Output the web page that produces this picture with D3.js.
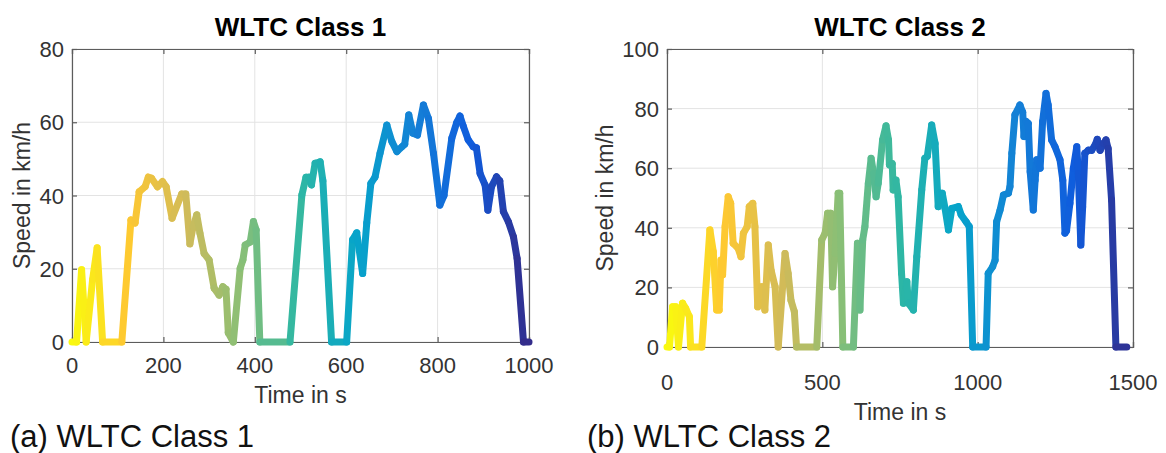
<!DOCTYPE html>
<html>
<head>
<meta charset="utf-8">
<script src="https://cdn.jsdelivr.net/npm/d3@7"></script>
<style>
  body { margin: 0; background: #fff; }
  svg { display: block; font-family: "Liberation Sans", Arial, sans-serif; }
</style>
</head>
<body>
<div id="chart"></div>
<script>

var class1Time  = [0,10,21,31,45,55,67,109,129,138,147,160,167,174,187,198,206,219,240,249,258,265,273,280,289,300,311,322,330,337,342,353,368,374,379,390,397,403,411,477,503,512,518,524,532,543,549,568,601,614,623,636,645,654,663,674,689,700,711,722,728,737,746,756,769,780,791,805,814,831,842,849,856,867,878,885,893,904,910,918,929,936,944,955,966,974,988,1000];
var class1Speed = [0,0,19.7,0,17,25.7,0,0,33.3,32.5,41,42.4,45,44.7,42.4,43.8,42.4,33.8,40.4,40.4,26.8,31.5,34.7,29.7,24.2,22.4,14.7,12.8,15.1,14.4,2.5,0,20.1,22.4,26.5,27.3,32.9,30.6,0,0,40.1,45,45,42.9,48.8,49.2,44,0,0,27.9,29.8,18.7,32.5,43.3,45,51.5,59.2,54.7,52,53.3,54,62,57,56.5,64.7,61,51.5,37.4,40,55.6,60,61.7,59,55.2,53.3,53,46,42.8,36,42.4,45.1,44,35.6,32.8,28.7,22.8,0,0];

var class2Time  = [0,8,18,28,37,50,60,72,76,112,138,149,160,168,174,179,187,197,205,213,229,238,246,258,265,276,283,292,305,315,326,335,348,358,380,390,399,410,417,482,498,509,517,527,533,541,551,556,566,600,613,621,630,637,648,657,665,673,680,694,705,713,716,725,728,737,744,755,761,772,777,793,804,820,830,838,852,863,873,878,886,895,906,917,938,947,963,973,984,1027,1034,1048,1056,1061,1072,1083,1099,1104,1110,1120,1136,1145,1149,1156,1163,1169,1179,1185,1190,1201,1209,1220,1227,1238,1249,1265,1274,1281,1286,1297,1308,1319,1324,1332,1338,1345,1356,1367,1378,1385,1394,1405,1413,1420,1431,1445,1480];
var class2Speed = [0,0,13.5,13.5,0,14.7,13,10.2,0,0,39.3,32,12.4,12.4,29.2,24.2,40.4,50.4,48.2,34.8,33.1,30.3,38.2,40.4,47.1,48.2,40.4,13.5,20.2,12.4,34.2,25.8,20.2,0,31.4,24.7,15.7,11.8,0,0,35.9,38.2,44.9,44.9,20.2,31.4,51.6,51.6,0,0,34.8,12.4,35.9,40.4,54.9,63.3,58.2,50.4,55,69.5,74.2,69.5,61.1,61.5,52.7,56,50.4,24.7,14.7,21.9,14.7,12.4,30.3,52.7,63.3,64,74.5,68.3,47.1,51.6,51.6,46.5,39.3,46.5,47.1,44.3,42,40.4,0,0,24.7,26.9,29.1,42,45.9,51,51.6,53.8,65,77.9,81.2,78.8,70.6,75.7,75,58.8,46,56,62.8,60,75.6,85.1,81.2,69.5,67.2,62.8,56,38.2,39,48.2,60,67.2,58.2,34.2,47,65,66,66,67.8,69.7,66,68.3,69.5,66.6,49.3,0,0];

var class1XTicks = [0,200,400,600,800,1000];
var class1YTicks = [0,20,40,60,80];
var class2XTicks = [0,500,1000,1500];
var class2YTicks = [0,20,40,60,80,100];

// parula colours, time runs from yellow to dark blue
var parula = ['#352a87','#0f5cdd','#1481d6','#06a4ca','#2eb7a4','#87bf77','#d1bb59','#fec832','#f9fb0e'];

var width = 1166;
var height = 453;

var svg = d3.select('#chart')
		.append('svg')
		.attr('width', width)
		.attr('height', height);

function drawPanel(p) {
	var x = d3.scaleLinear().domain([0, p.xMax]).range([p.left, p.right]);
	var y = d3.scaleLinear().domain([0, p.yMax]).range([p.bottom, p.top]);

	var colour = d3.scaleLinear()
		.domain(parula.map(function(c, i) { return p.xMax * (1 - i / (parula.length - 1)); }))
		.range(parula);

	var g = svg.append('g');

	// grid
	g.selectAll('.vgrid').data(p.xTicks).enter().append('line')
		.attr('x1', d => x(d)).attr('x2', d => x(d))
		.attr('y1', p.top).attr('y2', p.bottom)
		.attr('stroke', '#e3e3e3').attr('stroke-width', 1);
	g.selectAll('.hgrid').data(p.yTicks).enter().append('line')
		.attr('y1', d => y(d)).attr('y2', d => y(d))
		.attr('x1', p.left).attr('x2', p.right)
		.attr('stroke', '#e3e3e3').attr('stroke-width', 1);

	// axes on all four sides, ticks inside
	var tl = 5;
	var bottomAxis = d3.axisBottom(x).tickValues(p.xTicks).tickSize(-tl).tickFormat('');
	var topAxis = d3.axisTop(x).tickValues(p.xTicks).tickSize(-tl).tickFormat('');
	var leftAxis = d3.axisLeft(y).tickValues(p.yTicks).tickSize(-tl).tickFormat('');
	var rightAxis = d3.axisRight(y).tickValues(p.yTicks).tickSize(-tl).tickFormat('');

	g.append('g').attr('transform', 'translate(0,' + p.bottom + ')').call(bottomAxis);
	g.append('g').attr('transform', 'translate(0,' + p.top + ')').call(topAxis);
	g.append('g').attr('transform', 'translate(' + p.left + ',0)').call(leftAxis);
	g.append('g').attr('transform', 'translate(' + p.right + ',0)').call(rightAxis);
	g.selectAll('.domain, .tick line').attr('stroke', '#5c5c5c').attr('stroke-width', 1.2);

	// tick labels
	g.selectAll('.xlab').data(p.xTicks).enter().append('text')
		.attr('x', d => x(d)).attr('y', p.bottom + p.xTickDy)
		.attr('text-anchor', 'middle')
		.attr('font-size', '22px').attr('fill', '#333')
		.text(d => d);
	g.selectAll('.ylab').data(p.yTicks).enter().append('text')
		.attr('x', p.left - 8).attr('y', d => y(d) + 8)
		.attr('text-anchor', 'end')
		.attr('font-size', '22px').attr('fill', '#333')
		.text(d => d);

	// speed trace, one segment per pair so the colour can change with time
	var pts = p.time.map(function(t, i) { return { t: t, v: p.speed[i] }; });
	g.selectAll('.seg').data(d3.pairs(pts)).enter().append('line')
		.attr('x1', d => x(d[0].t)).attr('y1', d => y(d[0].v))
		.attr('x2', d => x(d[1].t)).attr('y2', d => y(d[1].v))
		.attr('stroke', d => colour((d[0].t + d[1].t) / 2))
		.attr('stroke-width', 7)
		.attr('stroke-linecap', 'round');

	// titles and labels
	g.append('text')
		.attr('x', (p.left + p.right) / 2).attr('y', 36)
		.attr('text-anchor', 'middle')
		.attr('font-size', '26px').attr('font-weight', 'bold').attr('fill', '#000')
		.text(p.title);
	g.append('text')
		.attr('x', (p.left + p.right) / 2).attr('y', p.xLabelY)
		.attr('text-anchor', 'middle')
		.attr('font-size', '23px').attr('fill', '#333')
		.text('Time in s');
	g.append('text')
		.attr('transform', 'translate(' + p.yLabelX + ',' + ((p.top + p.bottom) / 2) + ') rotate(-90)')
		.attr('text-anchor', 'middle')
		.attr('font-size', '23px').attr('fill', '#333')
		.text('Speed in km/h');
	svg.append('text')
		.attr('x', p.captionX).attr('y', 447)
		.attr('font-size', '31px').attr('fill', '#111')
		.text(p.caption);
}

drawPanel({
	time: class1Time, speed: class1Speed, xTicks: class1XTicks, yTicks: class1YTicks,
	xMax: 1000, yMax: 80,
	left: 72, right: 529, top: 49, bottom: 342,
	xTickDy: 31, xLabelY: 403, yLabelX: 30,
	title: 'WLTC Class 1', caption: '(a) WLTC Class 1', captionX: 10
});

drawPanel({
	time: class2Time, speed: class2Speed, xTicks: class2XTicks, yTicks: class2YTicks,
	xMax: 1500, yMax: 100,
	left: 667, right: 1133, top: 49, bottom: 347,
	xTickDy: 43, xLabelY: 420, yLabelX: 613,
	title: 'WLTC Class 2', caption: '(b) WLTC Class 2', captionX: 587
});

</script>
</body>
</html>
